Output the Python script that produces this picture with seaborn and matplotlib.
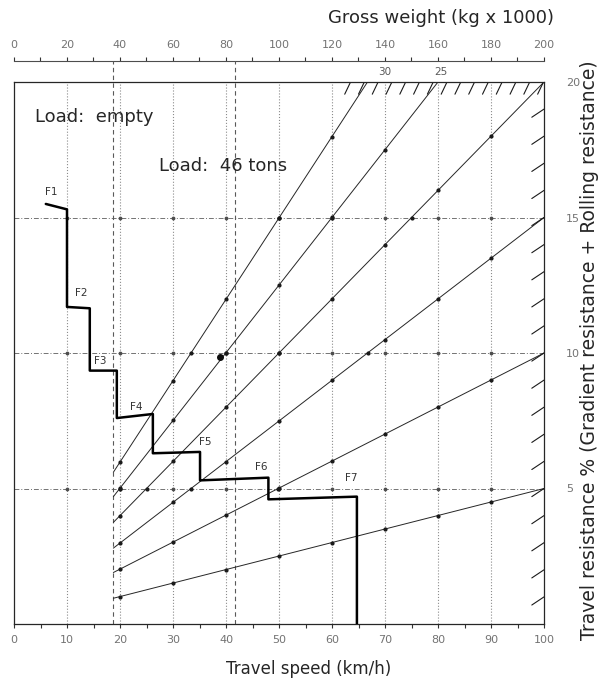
import numpy as np
import pandas as pd
import seaborn as sns
import matplotlib.pyplot as plt

# rimpull staircase: travel speed (km/h) vs travel resistance (%)
gear_speed = [6.0, 10.0, 10.0, 14.3, 14.3, 19.4, 19.4, 26.2, 26.2, 35.1, 35.1, 48.0, 48.0, 64.7, 64.7]
gear_resist = [15.5, 15.3, 11.7, 11.65, 9.35, 9.35, 7.6, 7.75, 6.3, 6.35, 5.3, 5.4, 4.6, 4.7, 0.0]

gear_names = ['F1', 'F2', 'F3', 'F4', 'F5', 'F6', 'F7']
gear_label_x = [7.0, 12.6, 16.2, 23.0, 36.0, 46.7, 63.7]
gear_label_y = [15.95, 12.2, 9.7, 8.0, 6.7, 5.8, 5.4]

# resistance lines, from the "empty" line up to the frame
grade_ids = ['30', '25', '20', '15', '10', '5']
grade_start_speed = [18.75, 18.75, 18.75, 18.75, 18.75, 18.75]
grade_start_resist = [5.6, 4.7, 3.75, 2.8, 1.9, 0.95]
grade_end_speed = [66.7, 80.0, 100.0, 100.0, 100.0, 100.0]
grade_end_resist = [20.0, 20.0, 20.0, 15.0, 10.0, 5.0]

top_line_labels = ['30', '25']
top_line_label_x = [70.0, 80.5]

load_empty_speed = 18.75
load_full_speed = 41.75

speed_ticks = [0, 10, 20, 30, 40, 50, 60, 70, 80, 90, 100]
weight_ticks = [0, 20, 40, 60, 80, 100, 120, 140, 160, 180, 200]
resist_ticks = [5, 10, 15, 20]

sns.set_style('white')
plt.rcParams['font.family'] = ['DejaVu Sans']

fig = plt.figure(figsize=(6.08, 6.86), dpi=100)
ax = fig.add_axes([14 / 608, 62 / 686, 530 / 608, 542 / 686])
ax.set_xlim(0, 100)
ax.set_ylim(0, 20)

# grid
ax.vlines(speed_ticks[1:-1], 0, 20, colors='0.55', linestyles=':', lw=0.8)
ax.hlines([5, 10, 15], 0, 100, colors='0.45', linestyles=(0, (5, 2, 1, 2)), lw=0.7)
gx, gy = np.meshgrid(speed_ticks[1:-1], [5, 10, 15])
ax.scatter(gx.ravel(), gy.ravel(), s=3, color='0.3', zorder=3)

# load lines (dashed, running up to the top scale)
for sp in [load_empty_speed, load_full_speed]:
    ax.plot([sp, sp], [0, 20.78], color='0.35', ls=(0, (4, 3)), lw=0.8, clip_on=False)

# resistance lines
rows = []
for gid, x0, y0, x1, y1 in zip(grade_ids, grade_start_speed, grade_start_resist,
                                grade_end_speed, grade_end_resist):
    rows.append({'line': gid, 'speed': x0, 'resist': y0})
    rows.append({'line': gid, 'speed': x1, 'resist': y1})
grades = pd.DataFrame(rows)
sns.lineplot(data=grades, x='speed', y='resist', units='line', estimator=None,
             color='0.15', lw=0.7, sort=False, ax=ax)

# small dots where the resistance lines cross the grid
for x0, y0, x1, y1 in zip(grade_start_speed, grade_start_resist, grade_end_speed, grade_end_resist):
    xs = [v for v in speed_ticks[2:-1] if x0 < v < x1]
    ys = list(np.interp(xs, [x0, x1], [y0, y1]))
    for h in [5, 10, 15]:
        if y0 < h < y1:
            xs.append(np.interp(h, [y0, y1], [x0, x1]))
            ys.append(h)
    if xs:
        ax.scatter(xs, ys, s=4, color='0.1', zorder=3)
ax.scatter([38.9], [9.85], s=16, color='0.05', zorder=4)

# rimpull staircase
gears = pd.DataFrame({'speed': gear_speed, 'resist': gear_resist})
sns.lineplot(data=gears, x='speed', y='resist', sort=False, estimator=None,
             color='black', lw=1.8, ax=ax, zorder=5)
for name, lx, ly in zip(gear_names, gear_label_x, gear_label_y):
    ax.text(lx, ly, name, fontsize=7.5, color='0.2', ha='center', va='center')

# hatch marks along the limits (top and right)
for hx in np.arange(63.5, 100.1, 2.6):
    ax.plot([hx, hx - 1.1], [20, 19.55], color='0.1', lw=0.8)
for hy in range(1, 20):
    ax.plot([100, 97.7], [hy, hy - 0.3], color='0.1', lw=0.8)

for lab, lx in zip(top_line_labels, top_line_label_x):
    ax.text(lx, 20.2, lab, fontsize=7.5, color='0.35', ha='center', va='bottom')

ax.text(4.0, 18.7, 'Load:  empty', fontsize=13, ha='left', va='center')
ax.text(27.3, 16.9, 'Load:  46 tons', fontsize=13, ha='left', va='center')

# axes styling
for s in ax.spines.values():
    s.set_visible(True)
    s.set_color('0.15')
    s.set_linewidth(0.9)
ax.set_xticks(speed_ticks)
ax.set_xticks(np.arange(5, 100, 10), minor=True)
ax.tick_params(axis='x', which='both', direction='out', length=3, width=0.8,
               colors='0.2', labelcolor='0.45', labelsize=8, pad=5, bottom=True)
ax.set_xlabel('Travel speed (km/h)', fontsize=12)
ax.xaxis.set_label_coords(0.555, -0.066)

ax.yaxis.tick_right()
ax.set_yticks(resist_ticks)
ax.tick_params(axis='y', length=0, labelcolor='0.45', labelsize=8, pad=16)
ax.set_ylabel('Travel resistance % (Gradient resistance + Rolling resistance)', fontsize=13.5)
ax.yaxis.set_label_position('right')
ax.yaxis.set_label_coords(1.068, 0.505)

# gross weight scale on top
top = ax.secondary_xaxis(1.0 + 21 / 542, functions=(lambda v: 2 * v, lambda v: v / 2))
top.set_xticks(weight_ticks)
top.set_xticks(np.arange(10, 200, 20), minor=True)
top.tick_params(which='both', direction='out', length=3, width=0.8, colors='0.2',
                labelcolor='0.45', labelsize=8, pad=5)
top.spines['top'].set_color('0.3')
top.spines['top'].set_linewidth(0.8)
fig.text(441 / 608, 1 - 18 / 686, 'Gross weight (kg x 1000)', fontsize=13, ha='center', va='center')

fig.savefig('out.png', dpi=100)
